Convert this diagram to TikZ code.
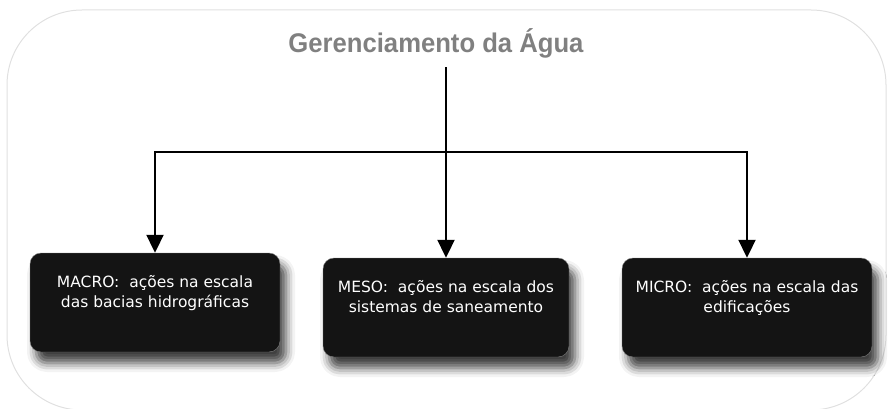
\documentclass[tikz,border=0pt]{standalone}
\usepackage{fontspec}
\setmainfont{DejaVu Sans}
\newfontfamily\titlefont[FakeStretch=0.95]{Liberation Sans}
\usetikzlibrary{arrows.meta,shadows.blur}

\begin{document}
\begin{tikzpicture}[x=1pt,y=-1pt,
    caixa/.style={fill=black!92, draw=black!50, rounded corners=11pt, text=white,
      minimum height=99pt, align=center, font=\fontsize{15.5}{20}\selectfont, text depth=23pt,
      blur shadow={shadow xshift=6pt, shadow yshift=-11pt, shadow blur radius=9pt, shadow opacity=75}},
    seta/.style={line width=2pt, -{Triangle[length=18pt,width=17pt]}},
    linha/.style={line width=2pt}]

    \useasboundingbox (0,0) rectangle (891,409);
    \draw[black!12, line width=1pt, rounded corners=75pt] (7,10) rectangle (886,410);

    \node[anchor=base, text=black!50, font=\titlefont\bfseries\fontsize{27}{32}\selectfont] (titulo) at (436,53) {Gerenciamento da Água};

    \node[caixa, minimum width=250pt] (macro) at (155,302.5) {MACRO:~ ações na escala\\das bacias hidrográficas};
    \node[caixa, minimum width=246pt] (meso) at (446,307.5) {MESO:~ ações na escala dos\\sistemas de saneamento};
    \node[caixa, minimum width=250pt] (micro) at (747,307.5) {MICRO:~ ações na escala das\\edificações};

    \coordinate (ramo) at (446,152);
    \draw[linha, shorten <=5pt] (titulo.south -| ramo) -- (ramo);
    \draw[seta] (ramo) -| (macro.north);
    \draw[seta] (ramo) -- (meso.north);
    \draw[seta] (ramo) -| (micro.north);

\end{tikzpicture}
\end{document}
